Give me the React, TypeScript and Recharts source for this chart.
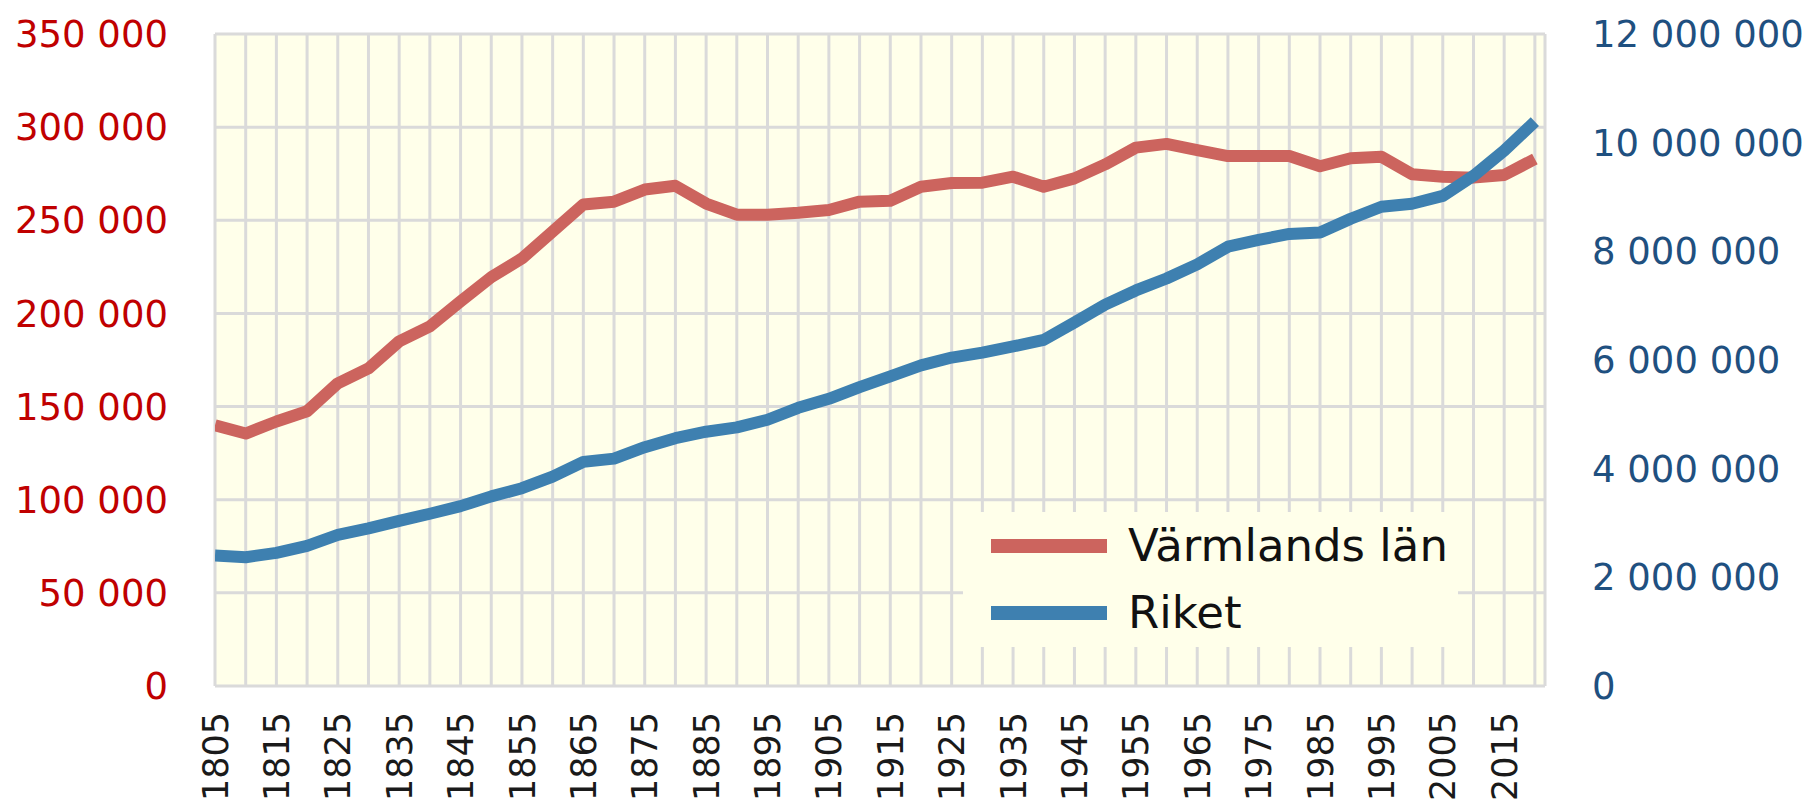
import React from 'react';
import { LineChart, Line, XAxis, YAxis, CartesianGrid, Legend } from 'recharts';

const years = [
  1805, 1810, 1815, 1820, 1825, 1830, 1835, 1840, 1845, 1850, 1855,
  1860, 1865, 1870, 1875, 1880, 1885, 1890, 1895, 1900, 1905, 1910,
  1915, 1920, 1925, 1930, 1935, 1940, 1945, 1950, 1955, 1960, 1965,
  1970, 1975, 1980, 1985, 1990, 1995, 2000, 2005, 2010, 2015, 2020,
];

const varmland = [
  140000, 135500, 142000, 147500, 162500, 170500, 185000, 193000, 206500, 219500, 229500,
  244000, 258500, 260000, 266500, 268500, 259000, 253000, 253000, 254000, 255500, 260000,
  260500, 268000, 270000, 270200, 273400, 268000, 272500, 280000, 289000, 291000, 287700,
  284500, 284500, 284500, 279000, 283300, 284100, 274700, 273400, 272900, 274300, 282900,
];

const riket = [
  2400000, 2370000, 2450000, 2580000, 2780000, 2900000, 3040000, 3170000, 3310000, 3490000, 3640000,
  3855000, 4125000, 4185000, 4395000, 4560000, 4680000, 4760000, 4900000, 5120000, 5285000, 5500000,
  5700000, 5900000, 6045000, 6135000, 6250000, 6370000, 6690000, 7020000, 7280000, 7500000, 7760000,
  8085000, 8210000, 8320000, 8345000, 8600000, 8820000, 8875000, 9020000, 9390000, 9855000, 10385000,
];

const leftTicks = [0, 50000, 100000, 150000, 200000, 250000, 300000, 350000];
const rightTicks = [0, 2000000, 4000000, 6000000, 8000000, 10000000, 12000000];
const labelYears = [1805, 1815, 1825, 1835, 1845, 1855, 1865, 1875, 1885, 1895, 1905, 1915, 1925, 1935, 1945, 1955, 1965, 1975, 1985, 1995, 2005, 2015];

const seriesNames = ['Värmlands län', 'Riket'];

const data = years.map((y, i) => ({ year: y, varmland: varmland[i], riket: riket[i] }));

const FONT = '"DejaVu Sans", sans-serif';
const RED_LINE = '#CC645E';
const BLUE_LINE = '#3E80B0';
const RED_TEXT = '#C00000';
const BLUE_TEXT = '#1F5080';
const BG = '#FFFFEA';
const GRID = '#DADADA';

const fmt = (v: number) => String(v).replace(/\B(?=(\d{3})+(?!\d))/g, ' ');

const XTick = (props: any) => {
  const { x, y, payload } = props;
  const v = payload.value;
  if (!labelYears.includes(v)) return null;
  return (
    <text
      x={x}
      y={y}
      transform={`rotate(-90, ${x}, ${y})`}
      textAnchor="end"
      dy="0.36em"
      fontFamily={FONT}
      fontSize={35}
      fill="#1a1a1a"
    >
      {v}
    </text>
  );
};

const LegendContent = () => (
  <div
    style={{
      width: 495,
      height: 135,
      background: BG,
      position: 'relative',
      fontFamily: FONT,
    }}
  >
    {[RED_LINE, BLUE_LINE].map((c, i) => (
      <React.Fragment key={i}>
        <div
          style={{
            position: 'absolute',
            left: 28,
            top: (i === 0 ? 34 : 101) - 7,
            width: 116,
            height: 14,
            background: c,
          }}
        />
        <div
          style={{
            position: 'absolute',
            left: 165,
            top: (i === 0 ? 34 : 101) - 28,
            fontSize: 45,
            lineHeight: '56px',
            color: '#111',
            whiteSpace: 'nowrap',
          }}
        >
          {seriesNames[i]}
        </div>
      </React.Fragment>
    ))}
  </div>
);

export default function App() {
  return (
    <LineChart
      width={1798}
      height={798}
      data={data}
      margin={{ top: 26, right: 0, bottom: 0, left: 0 }}
    >
      <CartesianGrid
        yAxisId="left"
        stroke={GRID}
        strokeWidth={3}
        fill={BG}
        fillOpacity={1}
      />
      <XAxis
        dataKey="year"
        type="number"
        domain={[1805, 2021.65]}
        ticks={years}
        interval={0}
        allowDataOverflow
        axisLine={false}
        tickLine={false}
        tickSize={0}
        tickMargin={26}
        height={120}
        tick={<XTick />}
      />
      <YAxis
        yAxisId="left"
        orientation="left"
        domain={[0, 350000]}
        ticks={leftTicks}
        interval={0}
        width={207}
        axisLine={false}
        tickLine={false}
        tickSize={0}
        tickMargin={47}
        tickFormatter={fmt}
        tick={{ fill: RED_TEXT, fontSize: 37, fontFamily: FONT }}
      />
      <YAxis
        yAxisId="right"
        orientation="right"
        domain={[0, 12000000]}
        ticks={rightTicks}
        interval={0}
        width={261}
        axisLine={false}
        tickLine={false}
        tickSize={0}
        tickMargin={47}
        tickFormatter={fmt}
        tick={{ fill: BLUE_TEXT, fontSize: 37, fontFamily: FONT }}
      />
      <Legend
        verticalAlign="middle"
        align="center"
        layout="horizontal"
        content={<LegendContent />}
        wrapperStyle={{ position: 'absolute', left: 955, top: 504, width: 495, height: 135 }}
      />
      <Line
        yAxisId="left"
        dataKey="varmland"
        name={seriesNames[0]}
        stroke={RED_LINE}
        strokeWidth={12}
        strokeLinejoin="round"
        dot={false}
        activeDot={false}
        isAnimationActive={false}
      />
      <Line
        yAxisId="right"
        dataKey="riket"
        name={seriesNames[1]}
        stroke={BLUE_LINE}
        strokeWidth={12}
        strokeLinejoin="round"
        dot={false}
        activeDot={false}
        isAnimationActive={false}
      />
    </LineChart>
  );
}
